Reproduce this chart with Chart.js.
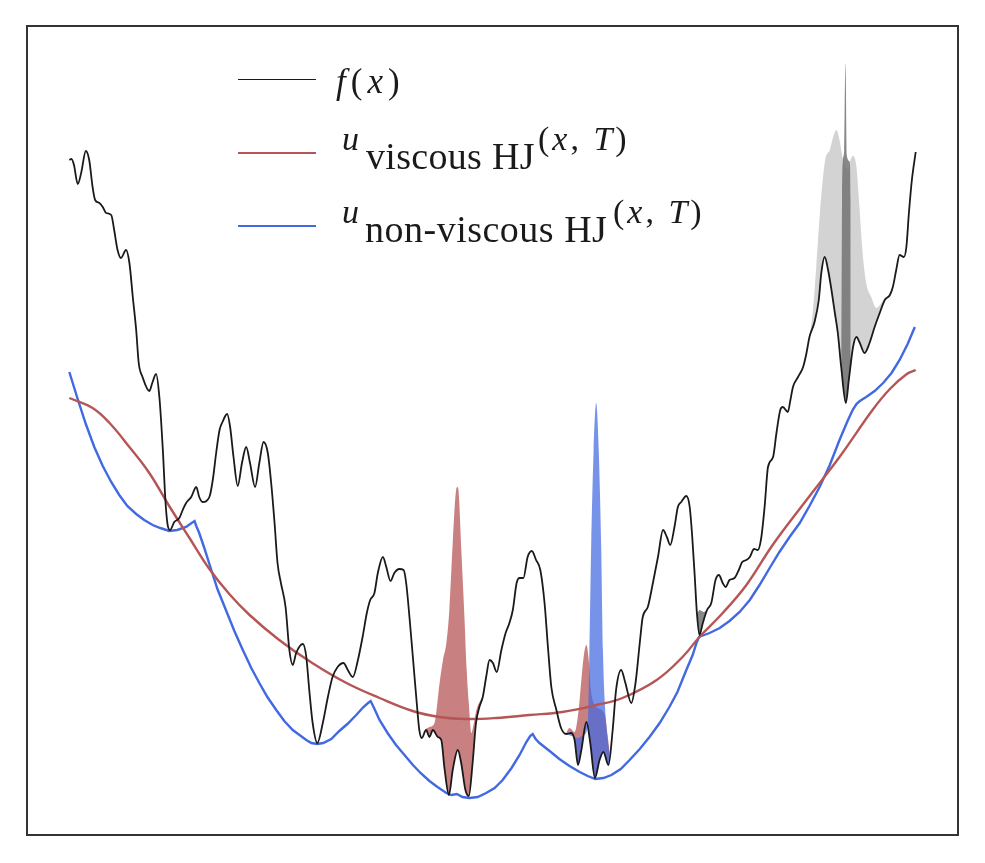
<!DOCTYPE html>
<html>
<head>
<meta charset="utf-8">
<script src="https://cdn.jsdelivr.net/npm/chart.js@4/dist/chart.umd.min.js"></script>
<style>
  body { margin: 0; background: #fff; }
  #wrap { position: relative; width: 985px; height: 863px; }
  #legenda span { position: absolute; white-space: nowrap; line-height: 1; font-family: "Liberation Serif", serif; color: #1a1a1a; }
  #legenda .mark { left: 238px; width: 78px; height: 0; border-top-style: solid; }
</style>
</head>
<body>
<div id="wrap">
  <canvas id="grafico" width="985" height="863"></canvas>
  <div id="legenda">
    <span class="mark" data-label="f" style="top:79px;border-top-width:1.6px"></span>
    <span style="left:336px;top:64px;font-size:35px;letter-spacing:5px"><i>f</i>(<i>x</i>)</span>

    <span class="mark" data-label="viscous" style="top:151.5px;border-top-width:2.5px"></span>
    <span style="left:342px;top:121.5px;font-size:34px"><i>u</i></span>
    <span style="left:366px;top:136.5px;font-size:38px;letter-spacing:0.3px">viscous HJ</span>
    <span style="left:538px;top:121.5px;font-size:34px;letter-spacing:3px">(<i>x</i>, <i>T</i>)</span>

    <span class="mark" data-label="non-viscous" style="top:224.8px;border-top-width:2.5px"></span>
    <span style="left:342px;top:194.8px;font-size:34px"><i>u</i></span>
    <span style="left:365px;top:210px;font-size:38px;letter-spacing:0.5px">non-viscous HJ</span>
    <span style="left:613px;top:194.8px;font-size:34px;letter-spacing:3px">(<i>x</i>, <i>T</i>)</span>
  </div>
</div>
<script>
// === Curva f(x) ===
const fX = [-1.000,-0.995,-0.989,-0.980,-0.972,-0.961,-0.953,-0.945,-0.939,-0.929,
  -0.921,-0.913,-0.901,-0.894,-0.886,-0.878,-0.866,-0.858,-0.850,-0.842,
  -0.836,-0.827,-0.811,-0.804,-0.795,-0.787,-0.779,-0.773,-0.768,-0.762,
  -0.752,-0.740,-0.732,-0.724,-0.712,-0.700,-0.693,-0.685,-0.669,-0.661,
  -0.653,-0.645,-0.638,-0.627,-0.620,-0.612,-0.602,-0.592,-0.582,-0.573,
  -0.561,-0.551,-0.541,-0.531,-0.523,-0.515,-0.508,-0.500,-0.489,-0.480,
  -0.472,-0.464,-0.448,-0.440,-0.433,-0.425,-0.414,-0.401,-0.389,-0.378,
  -0.366,-0.352,-0.342,-0.330,-0.318,-0.307,-0.297,-0.289,-0.279,-0.271,
  -0.259,-0.251,-0.241,-0.232,-0.220,-0.210,-0.204,-0.195,-0.187,-0.179,
  -0.173,-0.167,-0.157,-0.149,-0.141,-0.129,-0.121,-0.113,-0.103,-0.094,
  -0.082,-0.074,-0.064,-0.056,-0.047,-0.039,-0.031,-0.023,-0.015,-0.007,
  0.001,0.010,0.021,0.031,0.040,0.048,0.057,0.064,0.073,0.083,
  0.093,0.103,0.113,0.123,0.131,0.139,0.151,0.162,0.174,0.186,
  0.194,0.202,0.210,0.222,0.231,0.242,0.253,0.262,0.274,0.284,
  0.292,0.304,0.314,0.328,0.338,0.348,0.355,0.367,0.379,0.391,
  0.403,0.412,0.420,0.430,0.438,0.446,0.458,0.466,0.472,0.478,
  0.483,0.489,0.497,0.507,0.517,0.527,0.535,0.544,0.551,0.560,
  0.572,0.582,0.590,0.600,0.608,0.618,0.627,0.635,0.643,0.651,
  0.663,0.671,0.680,0.686,0.698,0.704,0.710,0.722,0.734,0.742,
  0.749,0.761,0.771,0.777,0.785,0.793,0.801,0.809,0.816,0.824,
  0.835,0.842,0.852,0.860,0.868,0.879,0.891,0.903,0.915,0.927,
  0.939,0.946,0.954,0.962,0.972,0.978,0.984,0.991,1.000];
const fY = [6.75,6.76,6.70,6.51,6.62,6.84,6.75,6.48,6.35,6.32,
  6.28,6.22,6.20,6.05,5.85,5.77,5.85,5.72,5.38,5.05,
  4.72,4.58,4.44,4.52,4.61,4.37,3.85,3.35,3.11,3.05,
  3.13,3.17,3.25,3.32,3.38,3.48,3.38,3.33,3.38,3.55,
  3.82,4.05,4.13,4.21,4.08,3.78,3.49,3.72,3.88,3.72,
  3.48,3.72,3.93,3.82,3.52,3.12,2.72,2.52,2.28,1.85,
  1.70,1.82,1.91,1.78,1.45,1.12,0.92,1.12,1.38,1.58,
  1.68,1.72,1.65,1.58,1.75,1.98,2.22,2.35,2.42,2.62,
  2.78,2.68,2.54,2.62,2.66,2.65,2.52,2.12,1.72,1.32,
  1.05,0.97,1.05,0.98,1.05,0.98,0.95,0.65,0.40,0.65,
  0.85,0.72,0.45,0.39,0.72,1.12,1.28,1.38,1.58,1.75,
  1.72,1.63,1.85,2.02,2.12,2.25,2.52,2.57,2.57,2.78,
  2.84,2.75,2.65,2.32,1.88,1.48,1.25,1.07,1.01,1.02,
  0.95,0.70,0.85,1.13,0.92,0.57,0.75,0.83,0.70,1.05,
  1.45,1.65,1.52,1.32,1.52,1.92,2.18,2.28,2.52,2.78,
  3.05,2.98,2.90,3.08,3.28,3.33,3.39,3.28,2.98,2.58,
  2.22,2.00,2.12,2.25,2.32,2.55,2.60,2.52,2.48,2.55,
  2.57,2.65,2.73,2.75,2.78,2.86,2.85,2.97,3.28,3.68,
  3.78,4.02,4.25,4.28,4.23,4.35,4.48,4.58,4.68,4.82,
  4.98,5.13,5.35,5.62,5.78,5.65,5.45,5.22,5.02,4.68,
  4.32,4.55,4.88,4.98,4.92,4.82,4.92,5.08,5.22,5.35,
  5.40,5.48,5.65,5.80,5.78,5.88,6.22,6.55,6.83];

// === u viscous HJ ===
const viscX = [-1.000,-0.945,-0.905,-0.858,-0.811,-0.764,-0.716,-0.669,-0.622,-0.574,
  -0.504,-0.426,-0.345,-0.267,-0.189,-0.125,-0.061,0.009,0.087,0.165,
  0.246,0.307,0.388,0.449,0.489,0.544,0.600,0.662,0.742,0.820,
  0.898,0.939,0.979,1.000];
const viscY = [4.37,4.27,4.12,3.88,3.62,3.29,2.97,2.66,2.41,2.20,
  1.95,1.72,1.52,1.37,1.24,1.18,1.16,1.17,1.20,1.23,
  1.30,1.37,1.55,1.78,1.98,2.22,2.50,2.90,3.35,3.78,
  4.25,4.46,4.61,4.65];

// === u non-viscous HJ ===
const nonViscX = [-1.000,-0.981,-0.961,-0.941,-0.921,-0.901,-0.882,-0.863,-0.842,-0.823,
  -0.803,-0.785,-0.764,-0.745,-0.724,-0.711,-0.704,-0.700,-0.693,-0.681,
  -0.669,-0.650,-0.630,-0.610,-0.590,-0.570,-0.551,-0.532,-0.511,-0.492,
  -0.472,-0.456,-0.440,-0.428,-0.414,-0.400,-0.381,-0.362,-0.343,-0.322,
  -0.305,-0.294,-0.288,-0.281,-0.267,-0.248,-0.228,-0.208,-0.188,-0.170,
  -0.149,-0.130,-0.109,-0.097,-0.084,-0.071,-0.054,-0.035,-0.015,0.005,
  0.024,0.045,0.064,0.080,0.089,0.095,0.102,0.111,0.135,0.158,
  0.182,0.206,0.225,0.243,0.262,0.281,0.303,0.324,0.348,0.371,
  0.395,0.418,0.437,0.458,0.473,0.482,0.488,0.494,0.513,0.537,
  0.560,0.584,0.608,0.631,0.655,0.678,0.702,0.726,0.749,0.773,
  0.797,0.820,0.839,0.851,0.860,0.868,0.883,0.903,0.923,0.943,
  0.962,0.981,0.998];
const nonViscY = [4.63,4.37,4.11,3.88,3.69,3.53,3.40,3.29,3.21,3.15,
  3.10,3.07,3.04,3.05,3.08,3.12,3.14,3.09,3.02,2.87,
  2.71,2.46,2.25,2.04,1.85,1.67,1.52,1.38,1.25,1.14,
  1.05,1.00,0.95,0.92,0.91,0.92,0.96,1.04,1.11,1.20,
  1.28,1.32,1.34,1.28,1.15,1.02,0.90,0.80,0.70,0.62,
  0.54,0.48,0.42,0.40,0.41,0.38,0.37,0.38,0.42,0.47,
  0.55,0.67,0.80,0.93,0.99,1.01,0.96,0.92,0.84,0.76,
  0.69,0.63,0.59,0.56,0.57,0.60,0.66,0.75,0.86,0.98,
  1.12,1.28,1.43,1.65,1.80,1.92,1.98,1.99,2.02,2.07,
  2.14,2.23,2.35,2.50,2.67,2.83,2.98,3.12,3.29,3.48,
  3.70,3.95,4.14,4.25,4.31,4.34,4.38,4.44,4.52,4.62,
  4.75,4.91,5.08];

// === Faixas sombreadas (topo de cada faixa, preenchida até f) ===
const redAX = [-0.158,-0.149,-0.137,-0.125,-0.117,-0.109,-0.102,-0.094,-0.086,-0.083,
  -0.080,-0.074,-0.066,-0.061,-0.056,-0.050,-0.045,-0.038,-0.028,-0.023];
const redAY = [1.06,1.08,1.12,1.52,1.75,1.92,2.25,2.92,3.45,3.48,
  3.43,2.88,2.15,1.65,1.32,1.02,1.10,1.25,1.35,1.38];
const redBX = [0.173,0.182,0.194,0.203,0.210,0.216,0.222,0.227,0.232,0.239,0.248,0.258,0.267,0.272,0.277];
const redBY = [1.01,1.07,1.03,1.23,1.55,1.80,1.90,1.77,1.47,1.32,1.27,1.25,1.17,1.00,0.82];
const blueX = [0.173,0.187,0.201,0.215,0.225,0.229,0.233,0.239,0.245,0.251,0.257,0.261,0.265,0.269,0.273,0.277];
const blueY = [1.01,0.99,0.97,1.00,1.09,1.85,2.85,3.85,4.32,3.85,2.85,1.85,1.35,1.10,0.92,0.82];
const greyX = [0.740,0.749,0.757,0.765,0.773,0.781,0.787,0.797,0.805,0.813,
  0.820,0.827,0.832,0.840,0.846,0.852,0.860,0.866,0.874,0.883,0.895,0.907,0.919,0.929];
const greyY = [4.83,4.99,5.23,5.68,6.18,6.58,6.77,6.85,6.98,7.05,
  6.95,6.78,6.70,6.65,6.75,6.79,6.68,6.35,5.85,5.52,5.38,5.27,5.32,5.38];
const spikeX = [0.824,0.826,0.828,0.831,0.833,0.834,0.835,0.837,0.844,0.846,0.847];
const spikeY = [4.68,6.35,6.75,6.85,7.55,7.72,7.55,6.80,6.73,6.35,4.75];
const greySmallX = [0.483,0.486,0.489,0.494,0.499,0.507];
const greySmallY = [2.22,2.23,2.25,2.24,2.23,2.25];

document.addEventListener("DOMContentLoaded", () => {
  const pares = (xs, ys) => xs.map((x, i) => ({ x, y: ys[i] }));

  const F_INDEX = 6; // posição do dataset f(x) na lista abaixo

  // Faixa preenchida entre o topo lido e a curva f
  const faixa = (label, xs, ys, cor) => ({
    label,
    data: pares(xs, ys),
    borderWidth: 0,
    pointRadius: 0,
    backgroundColor: cor,
    fill: F_INDEX,
    cubicInterpolationMode: "monotone",
    order: 1,
  });

  const linha = (label, xs, ys, cor, largura, opts = {}) => ({
    label,
    data: pares(xs, ys),
    borderColor: cor,
    borderWidth: largura,
    pointRadius: 0,
    fill: false,
    order: 0,
    ...opts,
  });

  const datasets = [
    faixa("spike", spikeX, spikeY, "rgba(115,115,115,0.85)"),
    faixa("grey small", greySmallX, greySmallY, "rgba(115,115,115,0.85)"),
    faixa("grey", greyX, greyY, "rgba(128,128,128,0.35)"),
    faixa("blue band", blueX, blueY, "rgba(65,105,225,0.72)"),
    faixa("red band B", redBX, redBY, "rgba(181,85,85,0.75)"),
    faixa("red band A", redAX, redAY, "rgba(181,85,85,0.75)"),
    linha("f", fX, fY, "#1a1a1a", 1.8, { cubicInterpolationMode: "monotone" }),
    linha("viscous", viscX, viscY, "#b55555", 2.4, { tension: 0.4 }),
    linha("non-viscous", nonViscX, nonViscY, "#4169e1", 2.4, { tension: 0 }),
  ];

  // Moldura em volta da área do gráfico
  const moldura = {
    id: "moldura",
    afterDraw(chart) {
      const { ctx, chartArea: a } = chart;
      ctx.save();
      ctx.strokeStyle = "#333";
      ctx.lineWidth = 2;
      ctx.strokeRect(a.left, a.top, a.right - a.left, a.bottom - a.top);
      ctx.restore();
    },
  };

  const ctx = document.getElementById("grafico");
  const chart = new Chart(ctx, {
    type: "line",
    data: { datasets },
    options: {
      responsive: false,
      devicePixelRatio: 1,
      animation: false,
      layout: { padding: { left: 27, right: 27, top: 26, bottom: 28 } },
      plugins: { legend: { display: false }, tooltip: { enabled: false } },
      scales: {
        x: { type: "linear", min: -1.1, max: 1.1, display: false },
        y: { type: "linear", min: 0, max: 8.09, display: false },
      },
    },
    plugins: [moldura],
  });

  // Cores da legenda vindas dos datasets
  document.querySelectorAll("#legenda .mark").forEach((el) => {
    const ds = chart.data.datasets.find((d) => d.label === el.dataset.label);
    if (ds) {
      el.style.borderTopColor = ds.borderColor;
    }
  });
});
</script>
</body>
</html>
